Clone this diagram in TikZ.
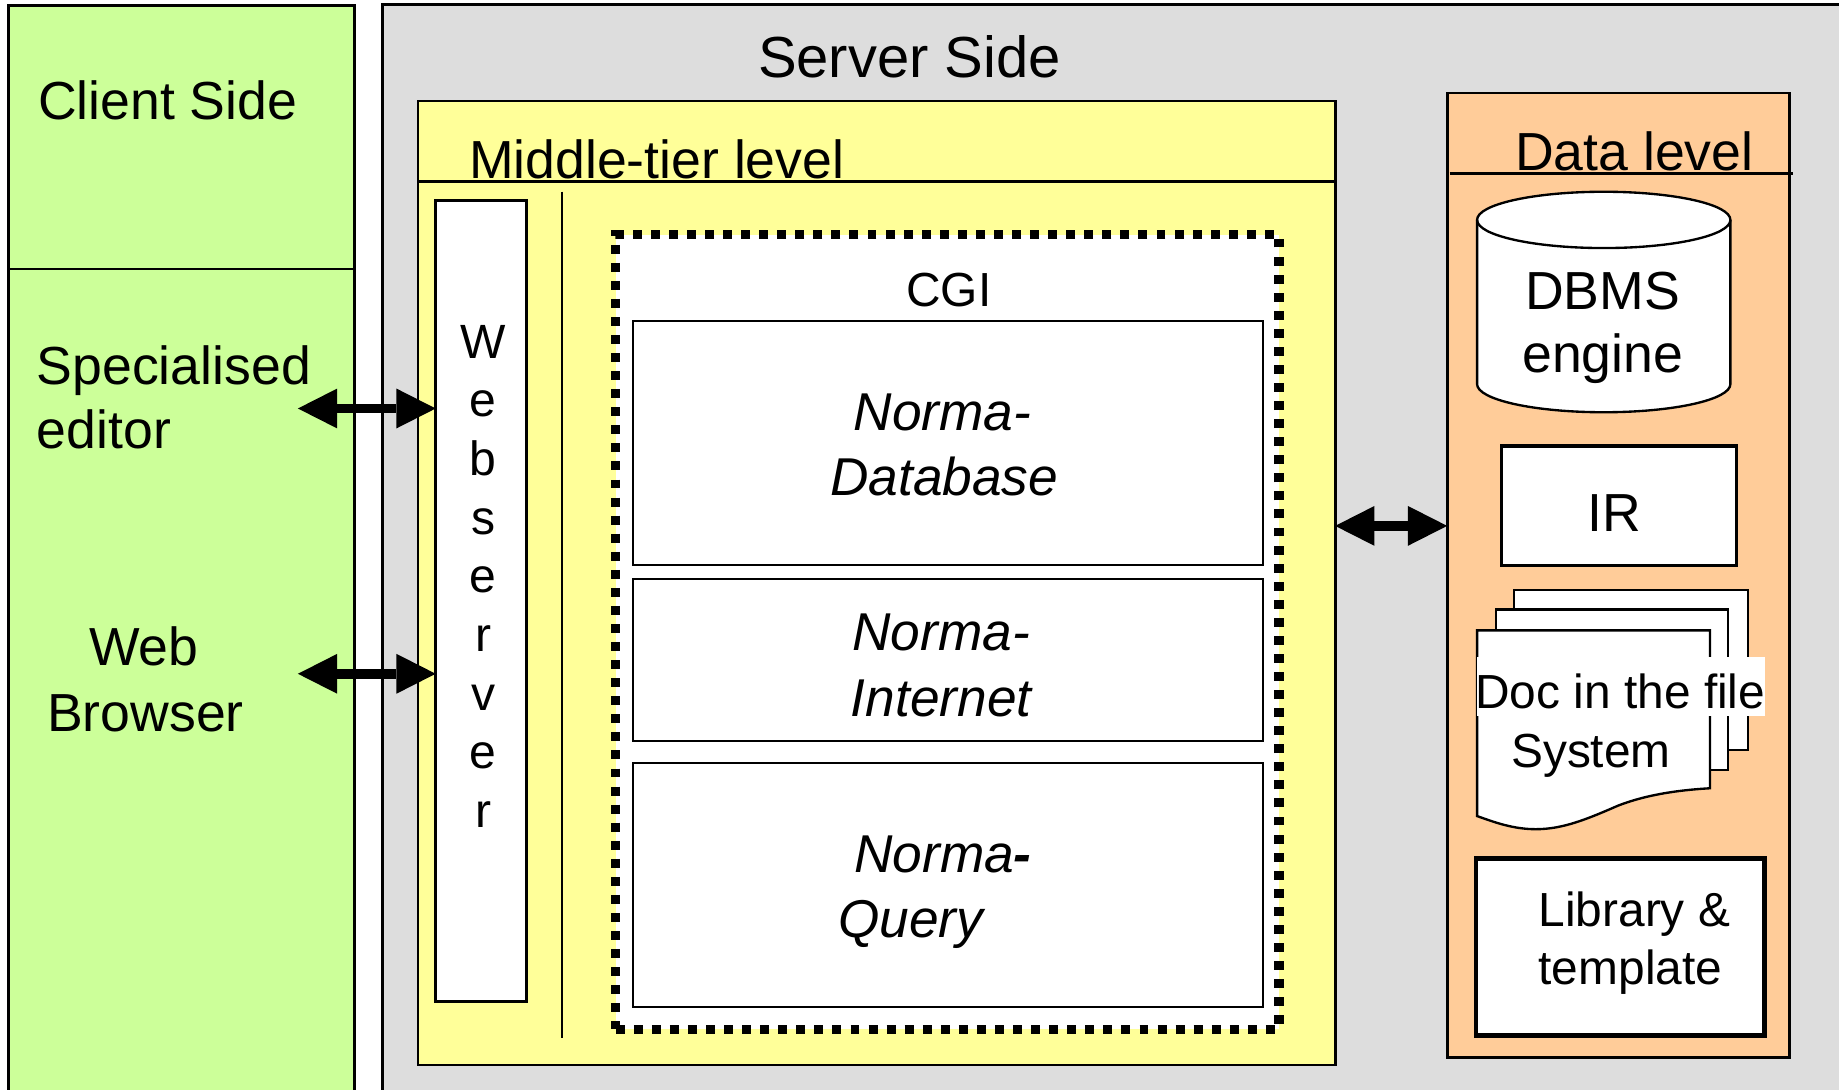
\documentclass[tikz,border=0pt]{standalone}
\usepackage{fontspec}
\setmainfont{Liberation Sans}
\usetikzlibrary{arrows.meta,fit}
\definecolor{clientgreen}{HTML}{CCFF99}
\definecolor{servergrey}{HTML}{DDDDDD}
\definecolor{midyellow}{HTML}{FFFF99}
\definecolor{dataorange}{HTML}{FFCC99}
\begin{document}
\begin{tikzpicture}[x=0.5pt,y=-0.5pt,
  region/.style={inner sep=0pt, outer sep=0pt},
  border/.style={line width=1.2pt},
  thinbox/.style={draw, fill=white, line width=0.9pt, inner sep=0pt, outer sep=0pt},
  txt/.style={inner sep=0pt, font=\fontsize{22.85}{27}\selectfont},
  itxt/.style={inner sep=0pt, font=\fontsize{22.7}{27}\selectfont\itshape, anchor=base},
  stxt/.style={inner sep=0pt, font=\fontsize{20.4}{24}\selectfont},
  wstxt/.style={inner sep=0pt, font=\fontsize{20.5}{24}\selectfont, anchor=base},
  dblarrow/.style={line width=4.25pt,
    {Triangle[length=16.75pt,width=17pt,line width=0pt]}-{Triangle[length=16.75pt,width=17pt,line width=0pt]}},
  dotbox/.style={draw, fill=white, line width=3.95pt, dash pattern=on 3.8pt off 3.9pt, inner sep=0pt, outer sep=0pt}
]
\useasboundingbox (0,0) rectangle (1568,929);
\clip (0,0) rectangle (1568,929);
\fill[white] (0,0) rectangle (1568,929);

% ---------- Client side ----------
\node[region, fill=clientgreen, fit={(7.5,4.4) (302.5,945)}] (client) {};
\draw[border] (client.south west) -- (client.north west) -- (client.north east) -- (client.south east);
\draw[border] (client.west |- 0,229.4) -- (client.east |- 0,229.4);
\node[txt, anchor=base west] (clientlbl) at (32,102) {Client Side};
\node[txt, anchor=base west] (spec1) at (31,328) {Specialised};
\node[txt, anchor=base west] (spec2) at (31,382.5) {editor};
\node[txt, anchor=base] (web1) at (122.5,567.5) {Web};
\node[txt, anchor=base] (web2) at (124,623.5) {Browser};

% ---------- Server side ----------
\node[region, fill=servergrey, fit={(326,3.8) (1620,960)}] (server) {};
\draw[border] (server.south west) -- (server.north west) -- (server.north east);
\node[inner sep=0pt, font=\fontsize{24.7}{29}\selectfont, anchor=base west] (serverlbl) at (646,66) {Server Side};

% ---------- Middle tier ----------
\node[region, draw, border, fill=midyellow, fit={(356.4,86.1) (1138.4,908)}] (mid) {};
\draw[border] (mid.west |- 0,154.5) -- (mid.east |- 0,154.5);
\node[txt, anchor=base west] (midlbl) at (399.5,152) {Middle-tier level};
\draw[line width=0.8pt] (479,163.4) coordinate (vtop) -- (479,885.2) coordinate (vbot);

% webserver
\node[thinbox, line width=1.1pt, fit={(371.5,171.1) (449,854.1)}] (ws) {};
\foreach \l [count=\i from 0] in {W,e,b,s,e,r,v,e,r}
  \node[wstxt] (wsl\i) at (412,305.5+50*\i) {\l};

% CGI dotted box
\node[dotbox, fit={(525,200) (1090.5,877.5)}] (cgi) {};
\node[stxt, anchor=base] (cgilbl) at (809,261.5) {CGI};

\node[thinbox, fit={(540,273.8) (1077,481.8)}] (ndb) {};
\node[itxt] (ndb1) at (803.5,367.3) {Norma-};
\node[itxt] (ndb2) at (805,422.8) {Database};

\node[thinbox, fit={(540,493.7) (1077,632)}] (nin) {};
\node[itxt] (nin1) at (802.5,555) {Norma-};
\node[itxt] (nin2) at (802.5,610.5) {Internet};

\node[thinbox, fit={(540,650.8) (1077,858.6)}] (nq) {};
\node[itxt] (nq1) at (804,744) {Norma\textbf{-}};
\node[itxt] (nq2) at (776.5,799.4) {Query};

% ---------- Data level ----------
\node[region, draw, border, fill=dataorange, fit={(1233.9,79.3) (1525.9,901.5)}] (data) {};
\draw[border] (1236,148) coordinate (dl1) -- (1529,148) coordinate (dl2);
\node[txt, anchor=base west] (datalbl) at (1291.5,145) {Data level};

% DBMS cylinder
\filldraw[fill=white, line width=1pt]
  (1259.4,187.5) -- (1259.4,327.5)
  arc[start angle=180, end angle=360, x radius=54pt, y radius=12pt]
  -- (1475.4,187.5)
  arc[start angle=0, end angle=180, x radius=54pt, y radius=12pt] -- cycle;
\draw[line width=1pt] (1259.4,187.5) arc[start angle=180, end angle=360, x radius=54pt, y radius=12pt];
\node[txt, anchor=base] (dbms1) at (1366.5,264) {DBMS};
\node[txt, anchor=base] (dbms2) at (1366.5,317.2) {engine};

% IR
\node[thinbox, line width=1.3pt, fit={(1280.4,380.3) (1480.3,481.8)}] (ir) {};
\node[txt, anchor=base] (irlbl) at (1376.5,453.5) {IR};

% document stack
\node[thinbox, line width=1pt, fit={(1291,502.8) (1490.4,639.6)}] (doc3) {};
\node[thinbox, line width=1pt, fit={(1275.4,519.7) (1473.4,656.7)}] (doc2) {};
\filldraw[fill=white, line width=1pt]
  (1259.4,537.5) -- (1458,537.5) -- (1458,672.1)
  .. controls (1425,674) and (1400,679) .. (1379.4,687)
  .. controls (1352,699) and (1332,707) .. (1309.4,707)
  .. controls (1290,707) and (1274,701) .. (1259.4,695.8) -- cycle;
\node[region, fill=white, fit={(1259,560.5) (1504.5,610.6)}] (docbg) {};
\node[stxt, anchor=base] (doc1lbl) at (1381.5,604) {Doc in the file};
\node[stxt, anchor=base] (doc2lbl) at (1356.5,654) {System};

% Library & template
\node[region, draw, fill=white, line width=2pt, fit={(1258.5,732.2) (1504.5,883)}] (lib) {};
\node[stxt, anchor=base west] (lib1) at (1311.5,790) {Library \&};
\node[stxt, anchor=base west] (lib2) at (1311.5,839.8) {template};

% ---------- Arrows ----------
\coordinate (edtip) at (254,348.3);
\coordinate (brtip) at (254,574.5);
\draw[dblarrow] (edtip) -- (edtip -| ws.west);
\draw[dblarrow] (brtip) -- (brtip -| ws.west);
\coordinate (dbarrow) at (1186,448.4);
\draw[dblarrow] (dbarrow -| mid.east) -- (dbarrow -| data.west);
\end{tikzpicture}
\end{document}
